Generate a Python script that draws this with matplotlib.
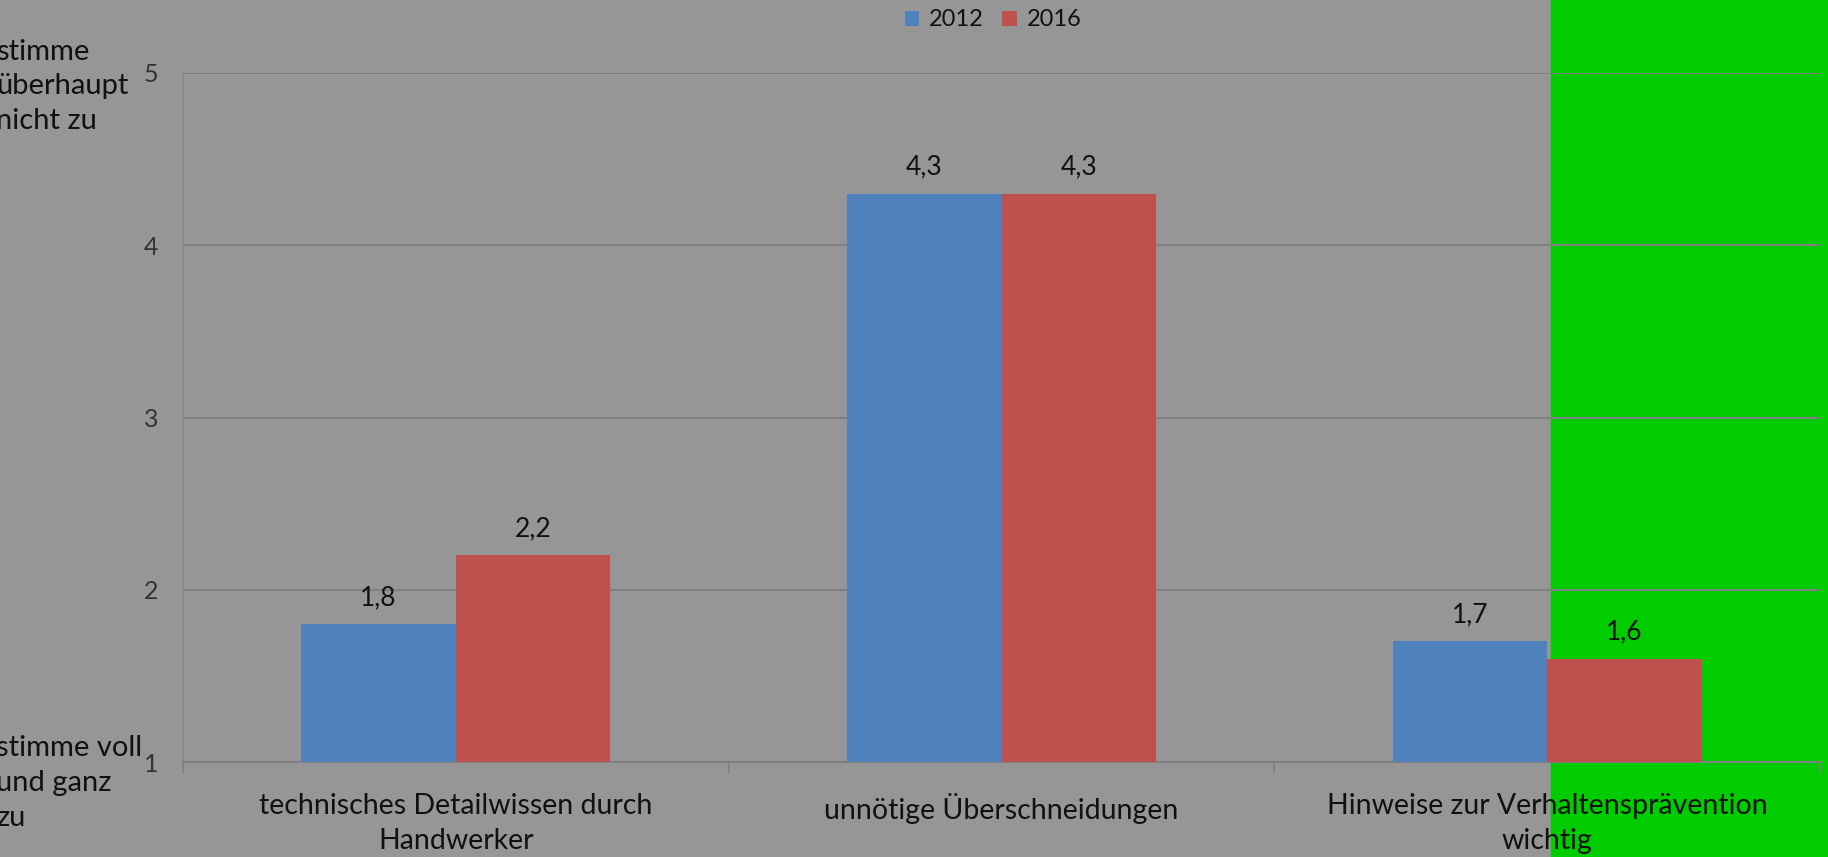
import numpy as np
import matplotlib.pyplot as plt
from matplotlib.patches import Rectangle

categories = ["technisches Detailwissen durch\nHandwerker",
              "unnötige Überschneidungen",
              "Hinweise zur Verhaltensprävention\nwichtig"]
vals_2012 = [1.8, 4.3, 1.7]
vals_2016 = [2.2, 4.3, 1.6]
series_names = ["2012", "2016"]
yticks = [1, 2, 3, 4, 5]
label_top = "stimme\nüberhaupt\nnicht zu"
label_bottom = "stimme voll\nund ganz\nzu"

plt.rcParams['font.family'] = ['Lato', 'DejaVu Sans']

bg = '#969696'
blue = '#4f81bd'
red = '#c0504d'

fig = plt.figure(figsize=(18.28, 8.57), dpi=100, facecolor=bg)
# green block on the right, behind everything
fig.patches.append(Rectangle((1551 / 1828, 0), 1 - 1551 / 1828, 1,
                             transform=fig.transFigure, color='#00cc00', zorder=-10))

ax = fig.add_axes([183 / 1828, 1 - 762 / 857, (1820 - 183) / 1828, (762 - 73) / 857])
ax.set_facecolor('none')
ax.set_zorder(1)

x = np.arange(len(categories))
w = 0.283
b1 = ax.bar(x - w / 2, vals_2012, w, color=blue, label=series_names[0], zorder=3)
b2 = ax.bar(x + w / 2, vals_2016, w, color=red, label=series_names[1], zorder=3)
for bars, vals in [(b1, vals_2012), (b2, vals_2016)]:
    ax.bar_label(bars, labels=[str(v).replace('.', ',') for v in vals],
                 padding=10, fontsize=19, color='#111111')

ax.set_xlim(-0.5, len(categories) - 0.5)
ax.set_ylim(1, 5)
ax.set_yticks(yticks)
ax.set_yticklabels([str(t) for t in yticks], fontsize=18, color='#333333')
ax.tick_params(axis='y', length=0, pad=18)
ax.yaxis.grid(True, color='#808080', linewidth=1.5, zorder=1)
ax.set_axisbelow(True)

ax.set_xticks(x)
ax.set_xticklabels(categories, fontsize=20.5, color='#111111', linespacing=1.45)
ax.set_xticks(np.arange(len(categories) + 1) - 0.5, minor=True)
ax.tick_params(axis='x', which='major', length=0, pad=22)
ax.tick_params(axis='x', which='minor', length=8, width=1.2, color='#808080')

for s in ['top', 'right']:
    ax.spines[s].set_visible(False)
ax.spines['left'].set_color('#888888')
ax.spines['left'].set_linewidth(1.2)
ax.spines['bottom'].set_color('#808080')
ax.spines['bottom'].set_linewidth(1.5)

fig.text(-0.002, 1 - 39 / 857, label_top, ha='left', va='top', fontsize=21,
         color='#111111', linespacing=1.4)
fig.text(-0.002, 1 - 735 / 857, label_bottom, ha='left', va='top', fontsize=21,
         color='#111111', linespacing=1.42)

fig.legend(handles=[b1, b2], loc='center', bbox_to_anchor=(993 / 1828, 1 - 20 / 857),
           ncol=2, frameon=False, fontsize=17, handlelength=0.62, handleheight=0.62,
           handletextpad=0.4, columnspacing=0.8, borderpad=0, labelcolor='#111111')

fig.savefig('out.png', dpi=100, facecolor=bg)
